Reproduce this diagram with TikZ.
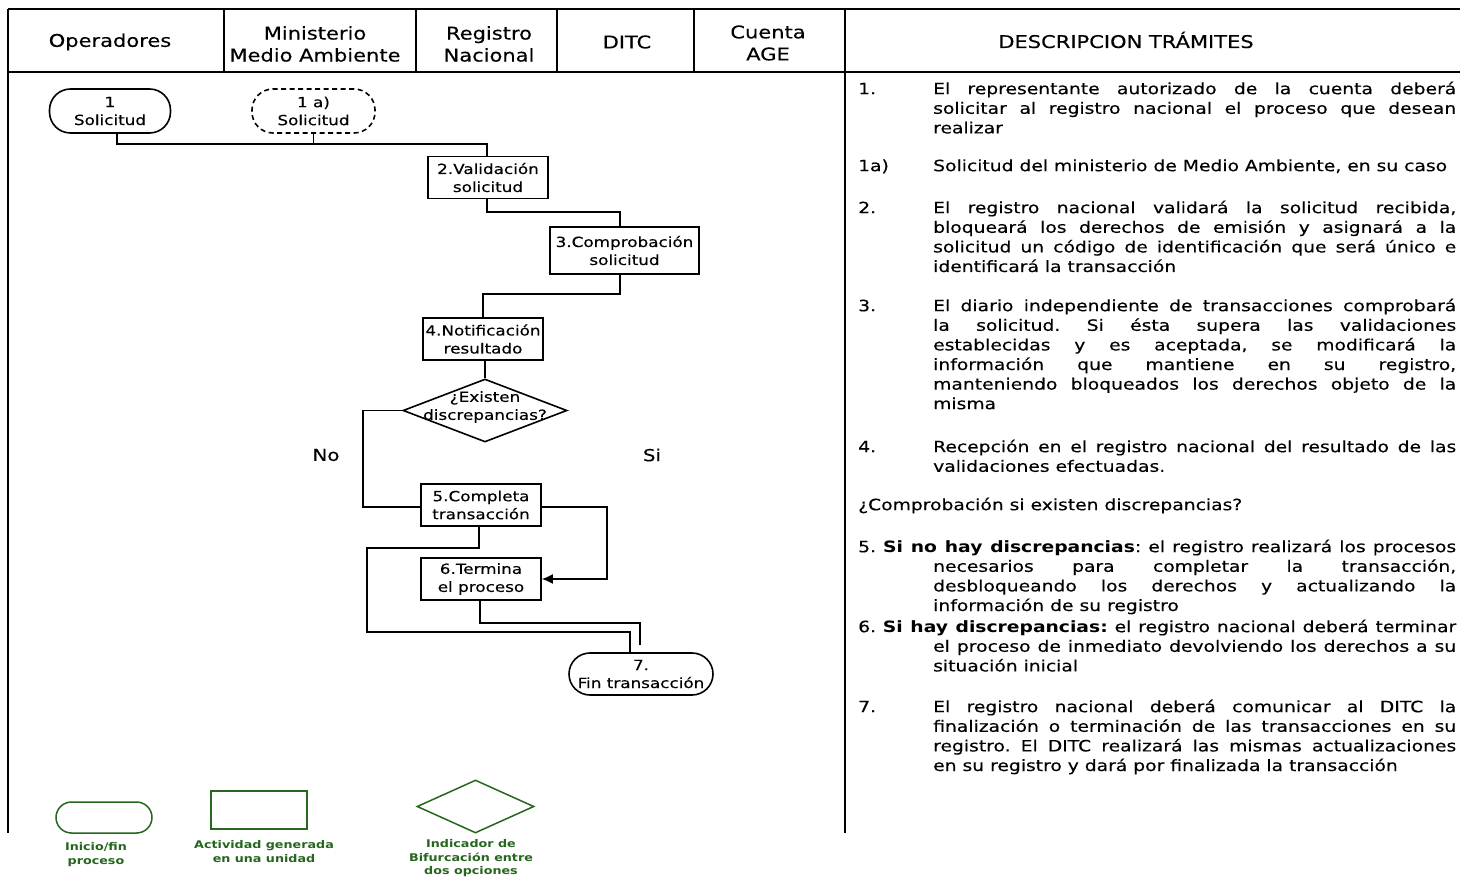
\documentclass[tikz,border=0pt]{standalone}
\usepackage{fontspec}
\setmainfont[FakeStretch=1.2, UprightFeatures={FakeBold=0.3}]{DejaVu Sans}
\usetikzlibrary{shapes.geometric,arrows.meta}
\definecolor{leg}{RGB}{38,102,30}
\newcommand\jl[1]{\makebox[523pt][s]{#1}}
\newcommand\jw[1]{\makebox[598pt][s]{#1}}
\newcommand\fs{\rule{0pt}{14pt}}
\frenchspacing
\begin{document}
\frenchspacing
\begin{tikzpicture}[x=1pt,y=-1pt,
  frame/.style={line width=1.9pt},
  conn/.style={line width=1.6pt},
  box/.style={draw, line width=1.6pt, minimum width=120pt, minimum height=42pt, inner sep=0pt, align=center, font=\fontsize{14}{18}\selectfont},
  term/.style={box, rounded corners=21pt},
  hdr/.style={align=center, inner sep=0pt, font=\fontsize{17.5}{22}\selectfont},
  txt/.style={anchor=north west, align=left, inner sep=0pt, font=\fontsize{15.6}{19.6}\selectfont},
  legbox/.style={draw=leg, line width=1.5pt, inner sep=0pt},
  legtxt/.style={text=leg, align=center, inner sep=0pt, font=\bfseries\fontsize{10.6}{13.5}\selectfont}
]
\useasboundingbox (0,0) rectangle (1460,877);
% frame
\draw[frame] (8,9) -- (1460,9);
\draw[frame] (8,72) -- (1460,72);
\draw[frame] (8,9) -- (8,833);
\draw[frame] (845,9) -- (845,833);
\foreach \xx in {224,416,557,694} \draw[frame] (\xx,9) -- (\xx,72);
% header
\node[hdr] (hOp) at (110,42) {Operadores};
\node[hdr] (hMin) at (315,44) {Ministerio\\Medio Ambiente};
\node[hdr] (hReg) at (489,44) {Registro\\Nacional};
\node[hdr] (hDitc) at (627,42) {DITC};
\node[hdr] (hAge) at (768,43) {Cuenta\\AGE};
\node[hdr] (hDesc) at (1126,40) {DESCRIPCION TRÁMITES};
% flowchart nodes
\node[term, minimum width=121pt, minimum height=44pt] (n1) at (110,111) {1\\Solicitud};
\node[term, dash pattern=on 5pt off 3.5pt, minimum width=123pt, minimum height=44pt] (n1a) at (313.5,111) {1 a)\\Solicitud};
\node[box] (n2) at (488,177.5) {2.Validación\\solicitud};
\node[box, minimum width=149pt, minimum height=47pt] (n3) at (624.5,250.5) {3.Comprobación\\solicitud};
\node[box] (n4) at (483,339) {4.Notificación\\resultado};
\node[diamond, draw, line width=1.6pt, minimum width=164pt, minimum height=63pt, inner sep=0pt] (d) at (485,410.5) {};
\node[align=center, inner sep=0pt, font=\fontsize{14}{18}\selectfont] (dt) at (485,407) {¿Existen\\discrepancias?};
\node[box] (n5) at (481,505) {5.Completa\\transacción};
\node[box] (n6) at (481,579) {6.Termina\\el proceso};
\node[term, minimum width=144pt, minimum height=42pt] (n7) at (641,674) {7.\\Fin transacción};
\node[font=\fontsize{16.5}{20}\selectfont, inner sep=0pt] (no) at (326,455) {No};
\node[font=\fontsize{16.5}{20}\selectfont, inner sep=0pt] (si) at (652,455) {Si};
% connectors
\draw[conn] ([xshift=7pt]n1.south) -- ++(0,10) -| ([xshift=-1pt]n2.north);
\draw[conn] (n1a.south) -- ++(0,10);
\draw[conn] ([xshift=-1pt]n2.south) -- ++(0,13) -| ([xshift=-4.5pt]n3.north);
\draw[conn] ([xshift=-4.5pt]n3.south) -- ++(0,19) -| (n4.north);
\draw[conn] (n4.south -| d.north) -- (d.north);
\draw[conn] (d.west) -- ++(-39,0) |- ([yshift=-2pt]n5.west);
\draw[conn, -{Latex[length=11pt,width=10pt]}] ([yshift=-2pt]n5.east) -- ++(65,0) |- (n6.east);
\draw[conn] ([xshift=-2pt]n5.south) |- (367,548) |- (630,632) -- ([xshift=-11pt]n7.north);
\draw[conn, shorten >=7pt] ([xshift=-1pt]n6.south) |- (640,623) -- ([xshift=-1pt]n7.north);
% legend
\node[legbox, rounded corners=15.5pt, minimum width=96pt, minimum height=31pt] (lt) at (104,817.5) {};
\node[legbox, minimum width=96pt, minimum height=38pt] (lr) at (259,810) {};
\node[legbox, diamond, minimum width=117pt, minimum height=53pt] (ld) at (475.5,806.5) {};
\node[legtxt] (ltt) at (96,854.5) {Inicio/fin\\proceso};
\node[legtxt] (lrt) at (264,851.5) {Actividad generada\\en una unidad};
\node[legtxt] (ldt) at (471,858.5) {Indicador de\\Bifurcación entre\\dos opciones};
% description text
\node[txt] (k1) at (858,80) {\fs 1.};
\node[txt] (t1) at (933,80) {\fs\jl{El representante autorizado de la cuenta deberá}\\\jl{solicitar al registro nacional el proceso que desean}\\realizar};
\node[txt] (k1a) at (858,157) {\fs 1a)};
\node[txt] (t1a) at (933,157) {\fs Solicitud del ministerio de Medio Ambiente, en su caso};
\node[txt] (k2) at (858,199) {\fs 2.};
\node[txt] (t2) at (933,199) {\fs\jl{El registro nacional validará la solicitud recibida,}\\\jl{bloqueará los derechos de emisión y asignará a la}\\\jl{solicitud un código de identificación que será único e}\\identificará la transacción};
\node[txt] (k3) at (858,297) {\fs 3.};
\node[txt] (t3) at (933,297) {\fs\jl{El diario independiente de transacciones comprobará}\\\jl{la solicitud. Si ésta supera las validaciones}\\\jl{establecidas y es aceptada, se modificará la}\\\jl{información que mantiene en su registro,}\\\jl{manteniendo bloqueados los derechos objeto de la}\\misma};
\node[txt] (k4) at (858,438) {\fs 4.};
\node[txt] (t4) at (933,438) {\fs\jl{Recepción en el registro nacional del resultado de las}\\validaciones efectuadas.};
\node[txt] (tq) at (858,496) {\fs ¿Comprobación si existen discrepancias?};
\node[txt] (t5) at (858,538) {\fs\jw{5. \textbf{Si no hay discrepancias}: el registro realizará los procesos}\\\hspace*{75pt}\jl{necesarios para completar la transacción,}\\\hspace*{75pt}\jl{desbloqueando los derechos y actualizando la}\\\hspace*{75pt}información de su registro};
\node[txt] (t6) at (858,618) {\fs\jw{6. \textbf{Si hay discrepancias:} el registro nacional deberá terminar}\\\hspace*{75pt}\jl{el proceso de inmediato devolviendo los derechos a su}\\\hspace*{75pt}situación inicial};
\node[txt] (k7) at (858,698) {\fs 7.};
\node[txt] (t7) at (933,698) {\fs\jl{El registro nacional deberá comunicar al DITC la}\\\jl{finalización o terminación de las transacciones en su}\\\jl{registro. El DITC realizará las mismas actualizaciones}\\en su registro y dará por finalizada la transacción};
\end{tikzpicture}
\end{document}
